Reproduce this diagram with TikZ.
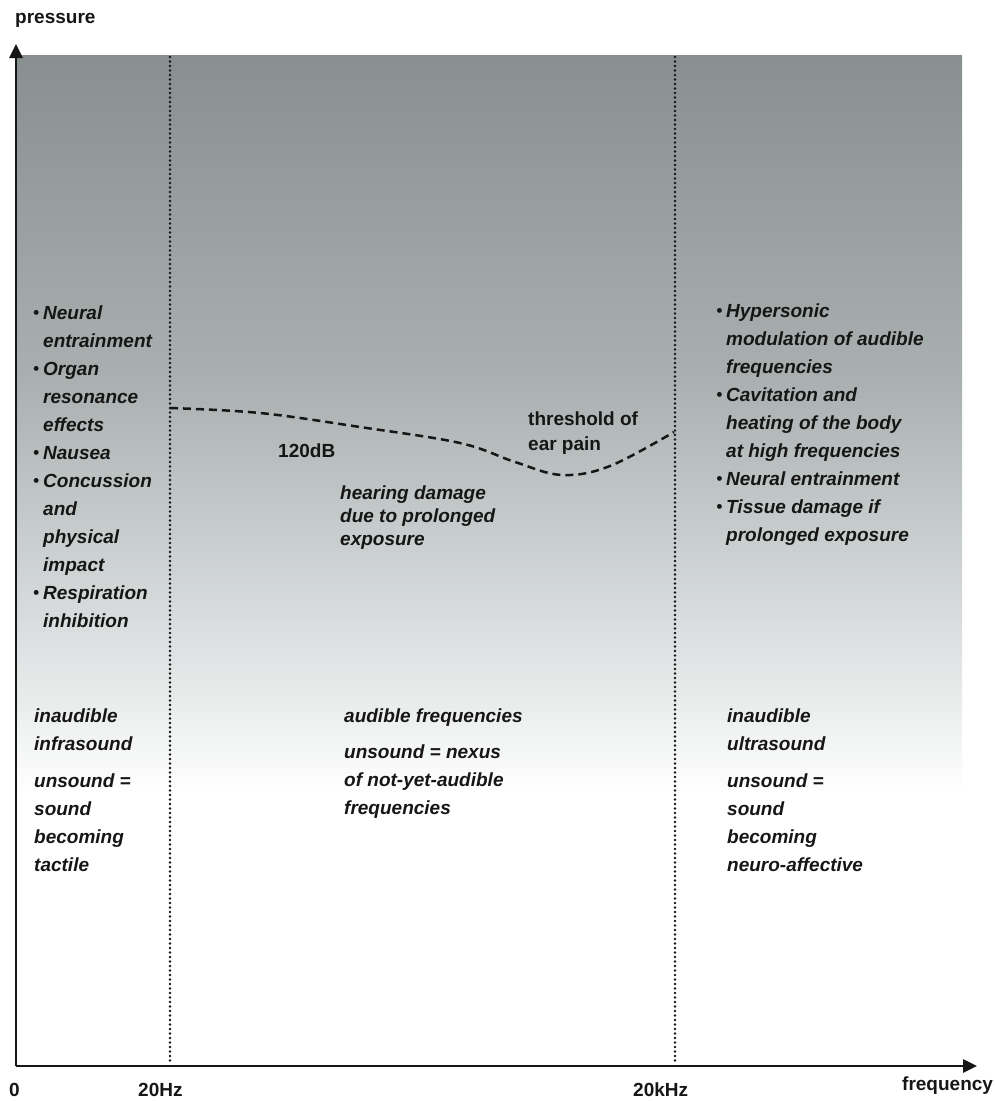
\documentclass[tikz,border=0pt]{standalone}
\usepackage{fontspec}
\setmainfont{Liberation Sans}
\usetikzlibrary{arrows.meta}
\definecolor{bgA}{RGB}{136,143,143}
\definecolor{bgB}{RGB}{170,176,176}
\definecolor{bgC}{RGB}{216,220,220}
\definecolor{ink}{RGB}{22,22,22}
\newcommand{\bul}{\llap{{\fontsize{17}{17}\selectfont\raisebox{0.5pt}{•}}\hspace{4pt}}}
\newcommand{\mlines}[1]{\begin{tabular}[t]{@{}l@{}}#1\end{tabular}}
\begin{document}
\begin{tikzpicture}[x=1pt,y=-1pt,
  lbl/.style={font=\fontsize{19}{28}\selectfont\bfseries, text=ink, inner sep=0pt, anchor=base west},
  itl/.style={font=\fontsize{19}{28}\selectfont\bfseries\itshape, text=ink, inner sep=0pt, anchor=base west},
  itltight/.style={font=\fontsize{19}{23}\selectfont\bfseries\itshape, text=ink, inner sep=0pt, anchor=base west},
  axis/.style={line width=2.6pt, draw=ink, -{Triangle[length=14pt,width=13pt]}},
  divider/.style={line width=2.6pt, draw=ink, line cap=round, dash pattern=on 0pt off 4.5pt},
  threshold/.style={line width=2.5pt, draw=ink, dash pattern=on 8pt off 5pt}]
\useasboundingbox (0,0) rectangle (994,1101);
% background gradient
\shade[top color=bgA, bottom color=bgB] (17,55) rectangle (962,380);
\shade[top color=bgB, bottom color=bgC] (17,379.5) rectangle (962,620);
\shade[top color=bgC, bottom color=white] (17,619.5) rectangle (962,795);
% dividers
\coordinate (d1t) at (170,57); \coordinate (d1b) at (170,1064);
\coordinate (d2t) at (675,57); \coordinate (d2b) at (675,1064);
\draw[divider] (d1t) -- (d1b);
\draw[divider] (d2t) -- (d2b);
% axes
\coordinate (o) at (16,1066);
\coordinate (ytip) at (16,44);
\coordinate (xtip) at (977,1066);
\draw[axis] (o) -- (ytip);
\draw[axis] (o) -- (xtip);
% axis labels
\node[lbl] (pressure) at (15,23) {pressure};
\node[lbl] (zero) at (9,1096) {0};
\node[lbl] (hz) at (138,1096) {20Hz};
\node[lbl] (khz) at (633,1096) {20kHz};
\node[lbl] (freq) at (902,1090) {frequency};
% threshold curve
\draw[threshold] plot[smooth, tension=0.6] coordinates {(170,408) (260,413) (360,427) (460,443) (515,462) (562,475) (610,466) (674,432)};
\node[lbl] (db) at (278,457) {120dB};
\node[lbl, font=\fontsize{19}{25}\selectfont\bfseries] (pain) at (528,425) {\mlines{threshold of\\ear pain}};
\node[itltight] (damage) at (340,499) {\mlines{hearing damage\\due to prolonged\\exposure}};
% left column effects
\node[itl] (infraeff) at (43,319) {\mlines{\bul Neural\\entrainment\\\bul Organ\\resonance\\effects\\\bul Nausea\\\bul Concussion\\and\\physical\\impact\\\bul Respiration\\inhibition}};
% right column effects
\node[itl] (ultraeff) at (726,317) {\mlines{\bul Hypersonic\\modulation of audible\\frequencies\\\bul Cavitation and\\heating of the body\\at high frequencies\\\bul Neural entrainment\\\bul Tissue damage if\\prolonged exposure}};
% bottom labels
\node[itl] (infra) at (34,722) {\mlines{inaudible\\infrasound}};
\node[itl] (infraun) at (34,787) {\mlines{unsound =\\sound\\becoming\\tactile}};
\node[itl] (aud) at (344,722) {audible frequencies};
\node[itl] (audun) at (344,758) {\mlines{unsound = nexus\\of not-yet-audible\\frequencies}};
\node[itl] (ultra) at (727,722) {\mlines{inaudible\\ultrasound}};
\node[itl] (ultraun) at (727,787) {\mlines{unsound =\\sound\\becoming\\neuro-affective}};
\end{tikzpicture}
\end{document}
